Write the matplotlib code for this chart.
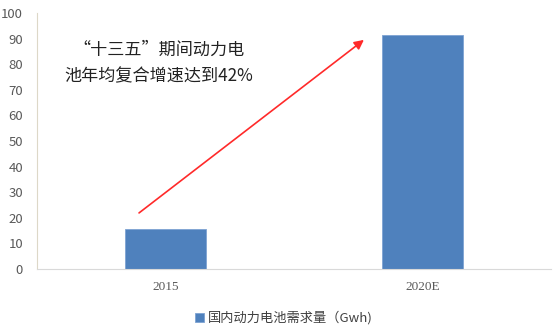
import matplotlib.pyplot as plt

plt.rcParams['font.family'] = ['Noto Sans CJK SC', 'DejaVu Sans']

categories = ['2015', '2020E']
demand = [15.7, 91.6]
series_name = '国内动力电池需求量（Gwh)'
note = '“十三五”期间动力电\n池年均复合增速达到42%'

fig = plt.figure(figsize=(5.53, 3.25), dpi=100)
ax = fig.add_axes([37 / 553, 1 - 269 / 325, 514 / 553, 256 / 325])

x = range(len(categories))
bars = ax.bar(x, demand, width=0.315, color='#4f81bd', label=series_name,
              edgecolor='#7ea3d3', linewidth=0.6)

ax.set_xlim(-0.5, 1.5)
ax.set_ylim(0, 100)
ax.set_yticks(range(0, 101, 10))
ax.set_xticks(list(x))
ax.set_xticklabels(categories, family=['Liberation Serif'], fontsize=10)
ax.tick_params(axis='both', length=0, colors='#595959', labelsize=9.5)
ax.tick_params(axis='y', pad=10)
ax.tick_params(axis='x', pad=9)

for side in ['top', 'right']:
    ax.spines[side].set_visible(False)
ax.spines['left'].set_color('#ddd8c8')
ax.spines['bottom'].set_color('#d9d9d9')

# growth arrow from 2015 level up to the 2020E bar
ax.annotate('', xy=(0.772, 89.5), xytext=(-0.103, 21.9),
            arrowprops=dict(arrowstyle='-|>', color='#ff2a2a', lw=1.2,
                            mutation_scale=14, shrinkA=0, shrinkB=0))

ax.text(-0.025, 80.5, note, ha='center', va='center', fontsize=12.3,
        color='#222222', linespacing=1.6)

fig.legend(handles=[bars], labels=[series_name], loc='center',
           bbox_to_anchor=(284 / 553, 1 - 318 / 325), frameon=False,
           fontsize=9.5, handlelength=0.7, handleheight=0.7,
           handletextpad=0.3, labelcolor='#404040', borderpad=0)

fig.savefig('out.png', dpi=100)
